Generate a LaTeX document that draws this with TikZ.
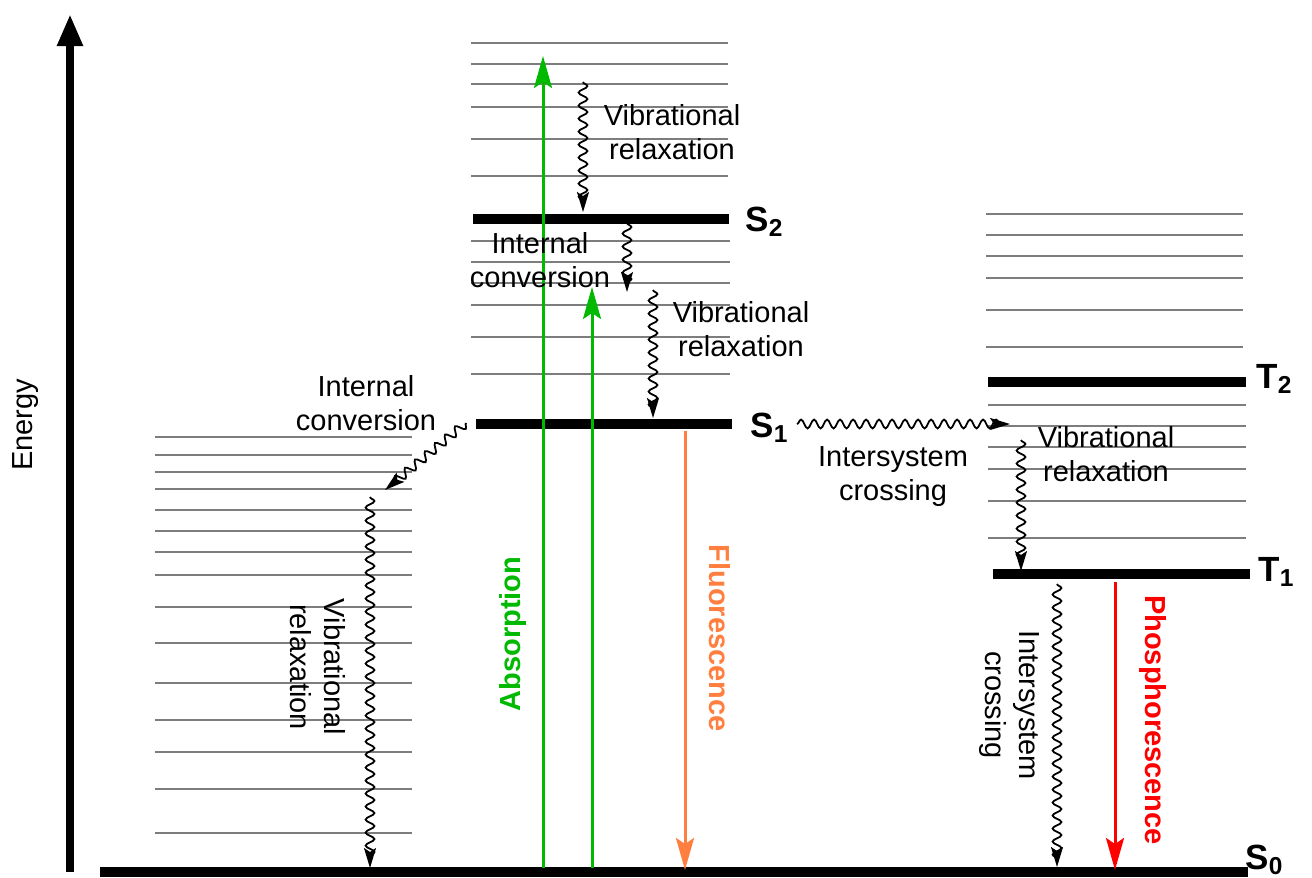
\documentclass[tikz,border=0pt]{standalone}
\usepackage{fontspec}
\setmainfont{Liberation Sans}
\usetikzlibrary{arrows.meta, decorations.pathmorphing, positioning}
\definecolor{AbsGreen}{RGB}{0, 185, 0}
\definecolor{FluoOrange}{RGB}{255, 127, 64}
\definecolor{PhosRed}{RGB}{255, 0, 0}
\definecolor{LevelGray}{RGB}{125, 125, 125}

\tikzset{
  vib/.style={LevelGray, line width=1pt},
  elevel/.style={black, line width=5pt},
  wavy/.style={-{Stealth[length=10pt, width=6pt, inset=2pt]}, line width=0.9pt, decorate,
    decoration={snake, amplitude=2.2pt, segment length=6.5pt, post length=3pt}},
  radiative/.style={line width=1.5pt, -{Stealth[length=16pt, width=9pt, inset=3pt]}},
  lbl/.style={font=\fontsize{14.5}{17}\selectfont, align=center, inner sep=0pt},
  statelbl/.style={font=\fontsize{17.5}{20}\selectfont\bfseries, anchor=base west, inner sep=0pt},
  bigbold/.style={font=\fontsize{14.5}{17}\selectfont\bfseries, inner sep=0pt},
}

\begin{document}
\begin{tikzpicture}[x=0.5pt, y=-0.5pt]
    \useasboundingbox (0,0) rectangle (1312,878);

    % Energy axis
    \coordinate (e0) at (70,872);
    \coordinate (e1) at (70,14);
    \draw[line width=4pt, -{Triangle[length=16pt, width=12pt]}] (e0) -- (e1);
    \node[lbl, rotate=90] (energy) at (26,425) {Energy};

    % Ground state S0 and its vibrational levels
    \draw[elevel] (100,872) -- (1248,872);
    \foreach \y in {437,455,472,489,510,531,552,575,607,643,683,720,752,789,833} {
      \draw[vib] (155,\y) -- (412,\y);
    }

    % S2 and S1 with vibrational levels
    \foreach \y in {43,64,84,107,139,176} {
      \draw[vib] (471,\y) -- (728,\y);
    }
    \draw[elevel] (473,219) -- (729,219);
    \foreach \y in {241,262,283,305,337,374} {
      \draw[vib] (471,\y) -- (730,\y);
    }
    \draw[elevel] (476,424) -- (732,424);

    % T2 and T1 with vibrational levels
    \foreach \y in {214,235,256,278,310,347} {
      \draw[vib] (986,\y) -- (1243,\y);
    }
    \draw[elevel] (988,382) -- (1246,382);
    \foreach \y in {405,426,447,469,501,538} {
      \draw[vib] (988,\y) -- (1246,\y);
    }
    \draw[elevel] (993,574) -- (1250,574);

    % State labels
    \node[statelbl] (S2) at (745,231) {S\textsubscript{2}};
    \node[statelbl] (S1) at (750,437) {S\textsubscript{1}};
    \node[statelbl] (T2) at (1256,388) {T\textsubscript{2}};
    \node[statelbl] (T1) at (1258,581) {T\textsubscript{1}};
    \node[statelbl] (S0) at (1245,869) {S\textsubscript{0}};

    % Radiative transitions
    \coordinate (abs1s) at (543,868);
    \coordinate (abs1e) at (543,56);
    \coordinate (abs2s) at (592,868);
    \coordinate (abs2e) at (592,287);
    \coordinate (fluos) at (685,431);
    \coordinate (fluoe) at (685,870);
    \coordinate (phoss) at (1115,582);
    \coordinate (phose) at (1115,870);
    \draw[radiative, AbsGreen] (abs1s) -- (abs1e);
    \draw[radiative, AbsGreen] (abs2s) -- (abs2e);
    \draw[radiative, FluoOrange] (fluos) -- (fluoe);
    \draw[radiative, PhosRed] (phoss) -- (phose);
    \node[bigbold, AbsGreen, rotate=90] (absorption) at (513,634) {Absorption};
    \node[bigbold, FluoOrange, rotate=-90] (fluorescence) at (720,638) {Fluorescence};
    \node[bigbold, PhosRed, rotate=-90] (phosphorescence) at (1153,720) {Phosphorescence};

    % Non-radiative transitions
    \coordinate (vr2s) at (583,82);
    \coordinate (vr2e) at (583,212);
    \coordinate (ic21s) at (627,223);
    \coordinate (ic21e) at (627,292);
    \coordinate (vr1s) at (653,290);
    \coordinate (vr1e) at (653,418);
    \coordinate (ic10s) at (466,423);
    \coordinate (ic10e) at (385,490);
    \coordinate (vr0s) at (370,497);
    \coordinate (vr0e) at (370,868);
    \coordinate (isc1s) at (797,424);
    \coordinate (isc1e) at (1010,424);
    \coordinate (vrts) at (1021,440);
    \coordinate (vrte) at (1021,571);
    \coordinate (isc0s) at (1057,584);
    \coordinate (isc0e) at (1057,867);
    \draw[wavy] (vr2s) -- (vr2e);
    \draw[wavy] (ic21s) -- (ic21e);
    \draw[wavy] (vr1s) -- (vr1e);
    \draw[wavy] (ic10s) -- (ic10e);
    \draw[wavy] (vr0s) -- (vr0e);
    \draw[wavy] (isc1s) -- (isc1e);
    \draw[wavy] (vrts) -- (vrte);
    \draw[wavy] (isc0s) -- (isc0e);

    % Process labels
    \node[lbl] (vrS2) at (672,132) {Vibrational\\relaxation};
    \node[lbl] (icS2) at (540,260) {Internal\\conversion};
    \node[lbl] (vrS1) at (741,329) {Vibrational\\relaxation};
    \node[lbl] (icS1) at (366,403) {Internal\\conversion};
    \node[lbl, rotate=-90] (vrS0) at (318,667) {Vibrational\\relaxation};
    \node[lbl] (iscS1) at (893,477) {Intersystem\\crossing};
    \node[lbl] (vrT) at (1106,454) {Vibrational\\relaxation};
    \node[lbl, rotate=-90] (iscT1) at (1009,705) {Intersystem\\crossing};
  \end{tikzpicture}
\end{document}
